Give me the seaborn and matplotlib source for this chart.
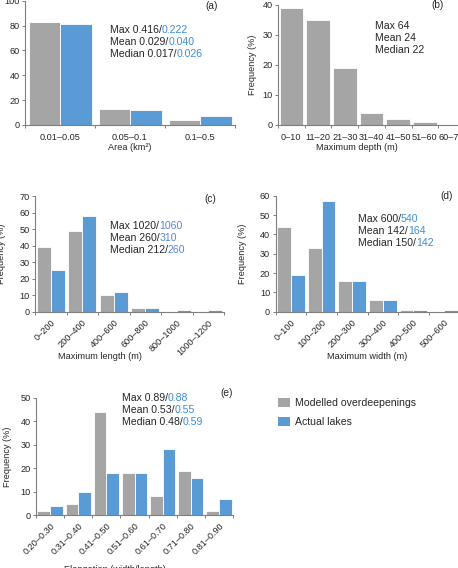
import numpy as np
import pandas as pd
import matplotlib
matplotlib.use("Agg")
import matplotlib.pyplot as plt
from matplotlib.patches import Patch
import seaborn as sns

# --- datos (frecuencia en %) ---
area_bins = ["0.01–0.05", "0.05–0.1", "0.1–0.5"]
area_model = [83, 13, 4]
area_lakes = [81, 12, 7]

depth_bins = ["0–10", "11–20", "21–30", "31–40", "41–50", "51–60", "60–70"]
depth_model = [39, 35, 19, 4, 2, 1, 0]

length_bins = ["0–200", "200–400", "400–600", "600–800", "800–1000", "1000–1200"]
length_model = [39, 49, 10, 2, 0, 0]
length_lakes = [25, 58, 12, 2, 1, 1]

width_bins = ["0–100", "100–200", "200–300", "300–400", "400–500", "500–600"]
width_model = [44, 33, 16, 6, 1, 0]
width_lakes = [19, 57, 16, 6, 1, 1]

elong_bins = ["0.20–0.30", "0.31–0.40", "0.41–0.50", "0.51–0.60",
              "0.61–0.70", "0.71–0.80", "0.81–0.90"]
elong_model = [2, 5, 44, 18, 8, 19, 2]
elong_lakes = [4, 10, 18, 18, 28, 16, 7]

series = ["Modelled overdeepenings", "Actual lakes"]

# estadisticas: (etiqueta, modelo, lagos)
area_stats = [("Max", "0.416", "0.222"), ("Mean", "0.029", "0.040"), ("Median", "0.017", "0.026")]
depth_stats = [("Max", "64", None), ("Mean", "24", None), ("Median", "22", None)]
length_stats = [("Max", "1020", "1060"), ("Mean", "260", "310"), ("Median", "212", "260")]
width_stats = [("Max", "600", "540"), ("Mean", "142", "164"), ("Median", "150", "142")]
elong_stats = [("Max", "0.89", "0.88"), ("Mean", "0.53", "0.55"), ("Median", "0.48", "0.59")]

gris = "#A5A5A5"
azul = "#5B9BD5"
azul_txt = "#3A8ED8"
texto = "#262626"
eje = "#7F7F7F"

sns.set_theme(style="ticks")
plt.rcParams["font.family"] = ["Liberation Sans", "DejaVu Sans"]

W, H = 458, 568
fig = plt.figure(figsize=(W / 100, H / 100), dpi=100)


def caja(x0, y0, x1, y1):
    return [x0 / W, 1 - y1 / H, (x1 - x0) / W, (y1 - y0) / H]


def pix(x, y):
    return x / W, 1 - y / H


def panel(rect, bins, model, lakes, ymax, ystep, rot, xlabel, xl, yl_x):
    ax = fig.add_axes(rect)
    n = len(bins)
    if lakes is None:
        sns.barplot(x=bins, y=model, color=gris, width=0.88, saturation=1,
                    edgecolor="white", linewidth=0.6, ax=ax)
    else:
        df = pd.DataFrame({"bin": bins * 2, "pct": model + lakes,
                           "serie": [series[0]] * n + [series[1]] * n})
        sns.barplot(data=df, x="bin", y="pct", hue="serie", palette=[gris, azul],
                    width=0.9, saturation=1, edgecolor="white", linewidth=0.6,
                    legend=False, ax=ax)
    ax.set_xlim(-0.5, n - 0.5)
    ax.set_ylim(0, ymax)
    ax.set_yticks(np.arange(0, ymax + 1, ystep))
    ax.set_xticks(np.arange(-0.5, n, 1))
    ax.set_xticklabels([])
    ax.set_xticks(np.arange(n), minor=True)
    if rot:
        ax.set_xticklabels(bins, minor=True, rotation=45, ha="right", va="top",
                           rotation_mode="anchor")
        ax.tick_params(axis="x", which="minor", length=0, pad=4.5)
    else:
        ax.set_xticklabels(bins, minor=True)
        ax.tick_params(axis="x", which="minor", length=0, pad=5.5)
    ax.tick_params(axis="both", which="both", labelsize=6.6, labelcolor=texto)
    ax.tick_params(axis="both", which="major", length=2.5, width=0.7, color=eje, pad=1.5)
    sns.despine(ax=ax)
    for s in ["left", "bottom"]:
        ax.spines[s].set_color(eje)
        ax.spines[s].set_linewidth(0.8)
    ax.set_xlabel(xlabel, fontsize=6.6, color=texto)
    ax.xaxis.set_label_coords(xl[0], xl[1])
    ax.xaxis.label.set_va("center")
    ax.set_ylabel("Frequency (%)", fontsize=6.6, color=texto)
    ax.yaxis.set_label_coords(yl_x, 0.5)
    ax.yaxis.label.set_va("center")
    return ax


# textos de estadisticas: parte negra y valor de lagos en azul a continuacion
negros = []
for x, y, stats, col in [(110, 29, area_stats, azul_txt), (375, 25, depth_stats, azul_txt),
                         (110, 225, length_stats, "#5A86D2"), (358, 218, width_stats, azul_txt),
                         (122, 397, elong_stats, azul_txt)]:
    for i, (nombre, m, l) in enumerate(stats):
        yy = y + i * 12.3 + 3.6  # linea base
        sep = "" if l is None else "/"
        t = fig.text(*pix(x, yy), f"{nombre} {m}{sep}", fontsize=7.6, color=texto, va="baseline")
        if l is not None:
            negros.append((t, l, col))

panel(caja(25, 0.7, 235, 125), area_bins, area_model, area_lakes, 100, 20, False,
      "Area (km²)", (0.5, -0.185), -0.16)
panel(caja(278, 5, 465, 125), depth_bins, depth_model, None, 40, 10, False,
      "Maximum depth (m)", (0.422, -0.19), -0.139)
panel(caja(35, 196, 224, 311.7), length_bins, length_model, length_lakes, 70, 10, True,
      "Maximum length (m)", (0.344, -0.39), -0.175)
panel(caja(275.7, 195.7, 459.3, 311.7), width_bins, width_model, width_lakes, 60, 10, True,
      "Maximum width (m)", (0.5, -0.39), -0.183)
panel(caja(36, 397.7, 233, 515.3), elong_bins, elong_model, elong_lakes, 50, 10, True,
      "Elongation (width/length)", (0.40, -0.462), -0.147)

for lab, (x, y) in zip(["(a)", "(b)", "(c)", "(d)", "(e)"],
                       [(212, 6), (437, 5), (210, 199), (447, 196), (227, 393)]):
    fig.text(*pix(x, y), lab, fontsize=7.3, color=texto, ha="center", va="center")

manijas = [Patch(facecolor=gris, edgecolor="none"), Patch(facecolor=azul, edgecolor="none")]
fig.legend(manijas, series, loc="upper left", bbox_to_anchor=pix(278, 398),
           frameon=False, fontsize=7.6, handlelength=1.1, handleheight=1.0,
           handletextpad=0.5, labelspacing=0.8, borderpad=0, borderaxespad=0,
           labelcolor=texto)

# medir el ancho de la parte negra para colocar el numero azul
fig.canvas.draw()
rend = fig.canvas.get_renderer()
for t, l, col in negros:
    bb = t.get_window_extent(renderer=rend)
    x0, y0 = t.get_position()
    fig.text(bb.x1 / fig.bbox.width, y0, l, fontsize=7.6, color=col, va="baseline")

fig.savefig("out.png", dpi=100)
